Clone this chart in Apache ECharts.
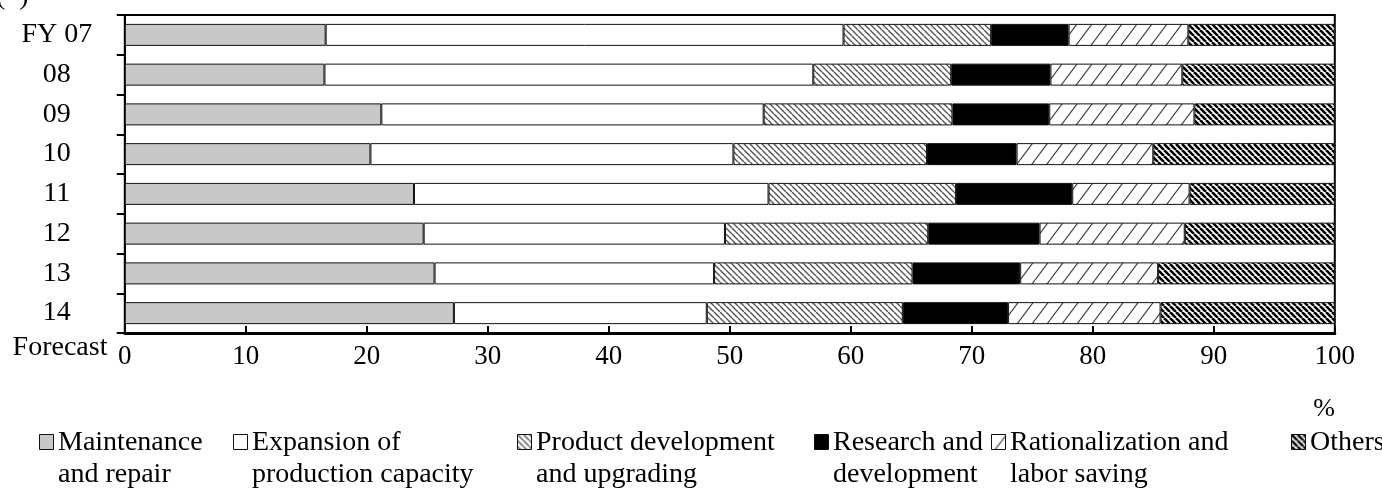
<!DOCTYPE html>
<html>
<head>
<meta charset="utf-8">
<script src="https://cdn.jsdelivr.net/npm/echarts@6/dist/echarts.min.js"></script>
<style>
html,body{margin:0;padding:0;background:#fff;}
#chart{width:1382px;height:492px;}
</style>
</head>
<body>
<div id="chart"></div>
<script>
// ---- data ----
const categories = ['FY 07', '08', '09', '10', '11', '12', '13', '14'];
const seriesNames = ['Maintenance and repair', 'Expansion of production capacity', 'Product development and upgrading', 'Research and development', 'Rationalization and labor saving', 'Others'];
const legendLabels = ['Maintenance\nand repair', 'Expansion of\nproduction capacity', 'Product development\nand upgrading', 'Research and\ndevelopment', 'Rationalization and\nlabor saving', 'Others'];
const maintenance     = [16.6, 16.5, 21.2, 20.3, 23.9, 24.7, 25.6, 27.2];
const expansion       = [42.8, 40.4, 31.6, 30.0, 29.3, 24.9, 23.1, 20.9];
const productDev      = [12.2, 11.4, 15.6, 16.0, 15.5, 16.8, 16.4, 16.2];
const research        = [6.4, 8.2, 8.0, 7.4, 9.6, 9.2, 8.9, 8.7];
const rationalization = [9.9, 10.9, 12.0, 11.3, 9.7, 12.0, 11.4, 12.6];
const others          = [12.1, 12.6, 11.6, 15.0, 12.0, 12.4, 14.6, 14.4];
const xTicks = [0, 10, 20, 30, 40, 50, 60, 70, 80, 90, 100];
const lastCategoryNote = 'Forecast';
const unitLabel = '%';

// ---- patterns ----
function hatch(w, h, dir, bg, fg, lw) {
  const c = document.createElement('canvas');
  c.width = w; c.height = h;
  const ctx = c.getContext('2d');
  ctx.fillStyle = bg; ctx.fillRect(0, 0, w, h);
  ctx.strokeStyle = fg; ctx.lineWidth = lw;
  ctx.beginPath();
  for (let k = -1; k <= 1; k++) {
    if (dir === 'back') { ctx.moveTo(k * w, 0); ctx.lineTo(k * w + w, h); }
    else { ctx.moveTo(k * w, h); ctx.lineTo(k * w + w, 0); }
  }
  ctx.stroke();
  return { image: c, repeat: 'repeat' };
}
const fills = [
  '#c8c8c8',
  '#ffffff',
  hatch(6, 6, 'back', '#ffffff', '#555555', 1.4),
  '#000000',
  hatch(15, 20, 'fwd', '#ffffff', '#444444', 1.2),
  hatch(6, 6, 'back', '#ffffff', '#000000', 2.6)
];
const values = [maintenance, expansion, productDev, research, rationalization, others];

const FONT = '"Liberation Serif", "Times New Roman", serif';

const series = seriesNames.map((n, i) => ({
  name: n,
  type: 'bar',
  stack: 'total',
  barWidth: 22,
  data: values[i],
  itemStyle: { color: fills[i], borderColor: '#111', borderWidth: 1 },
  emphasis: { disabled: true },
  animation: false
}));

// legend built as graphic elements
const legendTextX = [58, 252, 536, 833, 1010, 1310];
const graphic = [];
legendLabels.forEach((lab, i) => {
  graphic.push({
    type: 'rect', left: legendTextX[i] - 19, top: 434,
    shape: { width: 14, height: 15 },
    style: { fill: fills[i], stroke: '#111', lineWidth: 1 }
  });
  graphic.push({
    type: 'text', x: legendTextX[i], y: 427,
    style: { text: lab, font: '28px ' + FONT, fill: '#000', lineHeight: 32, verticalAlign: 'top', align: 'left' }
  });
});
graphic.push({ type: 'text', x: 60, y: 348, style: { text: lastCategoryNote, font: '28px ' + FONT, fill: '#000', align: 'center', verticalAlign: 'middle' } });
graphic.push({ type: 'text', x: 1324, y: 409, style: { text: unitLabel, font: '26px ' + FONT, fill: '#000', align: 'center', verticalAlign: 'middle' } });
graphic.push({ type: 'text', x: -4, y: -3, style: { text: '(  )', font: '28px ' + FONT, fill: '#000', align: 'left', verticalAlign: 'middle' } });

const chart = echarts.init(document.getElementById('chart'), null, { renderer: 'canvas' });
chart.setOption({
  animation: false,
  backgroundColor: '#fff',
  grid: { left: 124.8, right: 47.2, top: 15, bottom: 159, show: true, borderColor: '#000', borderWidth: 2, containLabel: false },
  xAxis: {
    type: 'value', min: 0, max: 100, interval: 10,
    axisLine: { show: true, lineStyle: { color: '#000', width: 3 } },
    axisTick: { show: true, inside: true, length: 7, lineStyle: { color: '#000', width: 2 } },
    splitLine: { show: false },
    axisLabel: { color: '#000', fontFamily: FONT, fontSize: 27, margin: 10, formatter: v => xTicks.includes(v) ? String(v) : '' }
  },
  yAxis: {
    type: 'category', inverse: true, data: categories,
    axisLine: { show: true, lineStyle: { color: '#000', width: 2 } },
    axisTick: { show: true, inside: false, length: 8, alignWithLabel: false, lineStyle: { color: '#000', width: 2 } },
    axisLabel: { color: '#000', fontFamily: FONT, fontSize: 28, margin: 68, align: 'center' }
  },
  series: series,
  graphic: graphic
});
</script>
</body>
</html>
